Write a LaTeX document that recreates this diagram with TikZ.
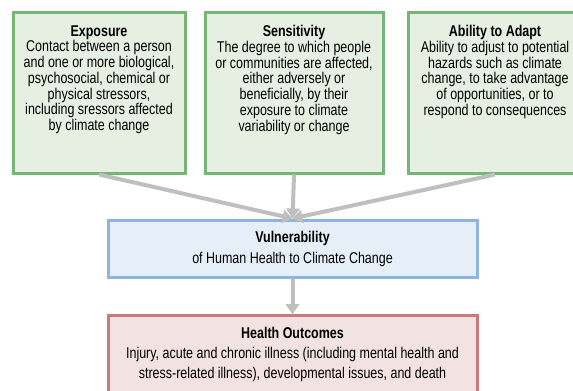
\documentclass[tikz,border=0pt]{standalone}
\usepackage{fontspec}
\setmainfont{Liberation Sans}[FakeStretch=0.8]
\usetikzlibrary{arrows.meta,positioning}

\definecolor{factorline}{RGB}{116,183,117}
\definecolor{factorfill}{RGB}{230,240,226}
\definecolor{vulnline}{RGB}{141,180,226}
\definecolor{vulnfill}{RGB}{230,238,248}
\definecolor{outcomeline}{RGB}{201,122,124}
\definecolor{outcomefill}{RGB}{242,226,226}
\definecolor{linkgray}{RGB}{191,191,191}

\tikzset{
    factor/.style = {draw = factorline, fill = factorfill, line width = 2.25pt,
        minimum height = 120.75pt, inner sep = 0pt},
    boxtext/.style = {anchor = north, inner sep = 0pt, align = center,
        font = \fontsize{11.7}{11.8}\selectfont},
    link/.style = {draw = linkgray, line width = 3pt,
        -{Triangle[length = 7.5pt, width = 10pt]}},
}

\begin{document}
\begin{tikzpicture}[x = 0.75pt, y = -0.75pt]
        \useasboundingbox (0,0) rectangle (573,390);
        % the three factors
        \node (exposure) [factor, minimum width = 129pt] at (99,92.5) {};
        \node (sensitivity) [factor, minimum width = 133.5pt] at (294,92.5) {};
        \node (adapt) [factor, minimum width = 142.5pt] at (503,92.5) {};
        \node (exposure_text) [boxtext] at ([yshift = -11pt]exposure.north)
            {\textbf{Exposure}\\Contact between a person\\and one or more biological,\\psychosocial, chemical or\\physical stressors,\\including sressors affected\\by climate change};
        \node (sensitivity_text) [boxtext] at ([yshift = -11pt]sensitivity.north)
            {\textbf{Sensitivity}\\The degree to which people\\or communities are affected,\\either adversely or\\beneficially, by their\\exposure to climate\\variability or change};
        \node (adapt_text) [boxtext] at ([xshift = -6pt, yshift = -11pt]adapt.north)
            {\textbf{Ability to Adapt}\\Ability to adjust to potential\\hazards such as climate\\change, to take advantage\\of opportunities, or to\\respond to consequences};
        % vulnerability and outcomes
        \node (vulnerability) [draw = vulnline, fill = vulnfill, line width = 2.25pt,
            minimum width = 276.75pt, minimum height = 42.75pt] at (292.5,248.5) {};
        \node (outcomes) [draw = outcomeline, fill = outcomefill, line width = 2.25pt,
            minimum width = 276.75pt, minimum height = 62pt] at (292.5,357) {};
        \node (vulnerability_text) [boxtext, font = \fontsize{11.7}{15.75}\selectfont]
            at ([yshift = -9.4pt]vulnerability.north)
            {\textbf{Vulnerability}\\of Human Health to Climate Change};
        \node (outcomes_text) [boxtext, font = \fontsize{11.7}{15}\selectfont]
            at ([yshift = -9.8pt]outcomes.north)
            {\textbf{Health Outcomes}\\Injury, acute and chronic illness (including mental health and\\stress-related illness), developmental issues, and death};
        \path (exposure.south) edge[link] (vulnerability.north);
        \path (sensitivity.south) edge[link] (vulnerability.north);
        \path ([xshift = -6pt]adapt.south) edge[link] (vulnerability.north);
        \path (vulnerability.south) edge[link] (outcomes.north);
    \end{tikzpicture}
\end{document}
